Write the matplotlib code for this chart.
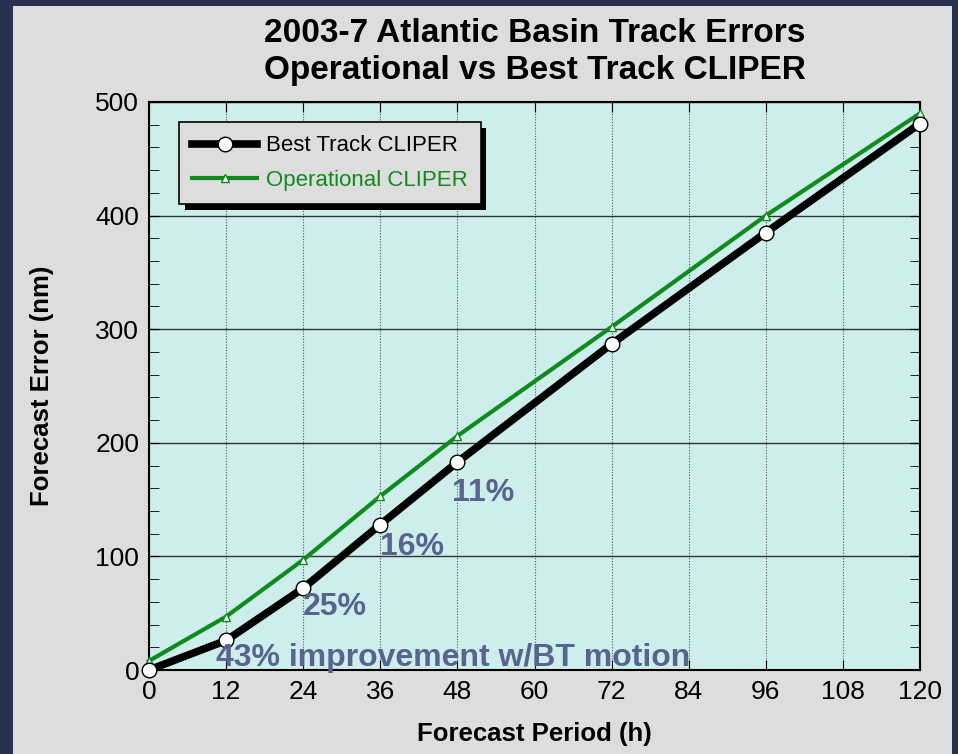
import matplotlib.pyplot as plt
from matplotlib.patches import Rectangle
import matplotlib.patheffects as pe

plt.rcParams['font.family'] = ['Liberation Sans', 'DejaVu Sans']

# data
hours = [0, 12, 24, 36, 48, 72, 96, 120]
best_track = [0, 26, 72, 128, 183, 287, 385, 481]
operational = [8, 47, 97, 153, 206, 302, 400, 490]

notes = ["43% improvement w/BT motion", "25%", "16%", "11%"]
note_x = [10.4, 24.0, 36.0, 47.2]
note_y = [3.5, 48, 101, 149]

NAVY = "#27314f"
PANEL = "#dcdddc"
PLOT_BG = "#cdeeea"
NOTE_COL = "#58638f"
GREEN = "#0f8a1e"

fig = plt.figure(figsize=(9.58, 7.54), dpi=100, facecolor=NAVY)
fig.patches.append(Rectangle((13 / 958, 0), (952 - 13) / 958, (754 - 6) / 754,
                             transform=fig.transFigure, facecolor=PANEL,
                             edgecolor="none", zorder=-10))

ax = fig.add_axes([149 / 958, 84 / 754, 771 / 958, 568 / 754])
ax.set_zorder(1)
ax.set_facecolor(PLOT_BG)

ax.plot(hours, best_track, color="black", lw=5.5, marker="o", ms=10.5,
        mfc="white", mec="black", mew=1, label="Best Track CLIPER",
        zorder=4, clip_on=False)
ax.plot(hours, operational, color=GREEN, lw=3, marker="^", ms=6,
        mfc="white", mec=GREEN, mew=1, label="Operational CLIPER",
        zorder=3, clip_on=False)

for t, x, y in zip(notes, note_x, note_y):
    ax.text(x, y, t, color=NOTE_COL, fontsize=23, fontweight="bold",
            ha="left", va="baseline", zorder=5)

ax.set_xlim(0, 120)
ax.set_ylim(0, 500)
ax.set_xticks(range(0, 121, 12))
ax.set_yticks(range(0, 501, 100))
ax.set_yticks(range(0, 501, 20), minor=True)
ax.tick_params(axis="both", which="both", direction="in", top=True, right=True,
               labelsize=19, pad=7)
ax.tick_params(axis="both", which="major", length=7)
ax.tick_params(axis="y", which="minor", length=7)
ax.grid(axis="x", color="#555555", lw=0.8, ls=(0, (1, 1.5)))
ax.grid(axis="y", color="#333333", lw=1)
for s in ax.spines.values():
    s.set_linewidth(1.5)

ax.set_xlabel("Forecast Period (h)", fontsize=18.5, fontweight="bold", labelpad=13)
ax.set_ylabel("Forecast Error (nm)", fontsize=18.5, fontweight="bold", labelpad=30)

fig.text(534.5 / 958, 1 - 52 / 754, "2003-7 Atlantic Basin Track Errors\nOperational vs Best Track CLIPER",
         ha="center", va="center", fontsize=24, fontweight="bold", linespacing=1.25)

leg = ax.legend(loc="upper left", bbox_to_anchor=(30 / 771, 1 - 20 / 568),
                borderaxespad=0, fontsize=16, frameon=True, fancybox=False,
                facecolor=PANEL, edgecolor="black", framealpha=1,
                handlelength=2.9, handletextpad=0.4, borderpad=0.6,
                labelspacing=0.6)
leg.get_frame().set_linewidth(1.2)
leg.get_frame().set_path_effects([pe.SimplePatchShadow(offset=(4, -4), shadow_rgbFace="black", alpha=1), pe.Normal()])
leg.get_texts()[0].set_color("black")
leg.get_texts()[1].set_color(GREEN)
leg.set_zorder(6)

fig.savefig("out.png", dpi=100, facecolor=fig.get_facecolor())
